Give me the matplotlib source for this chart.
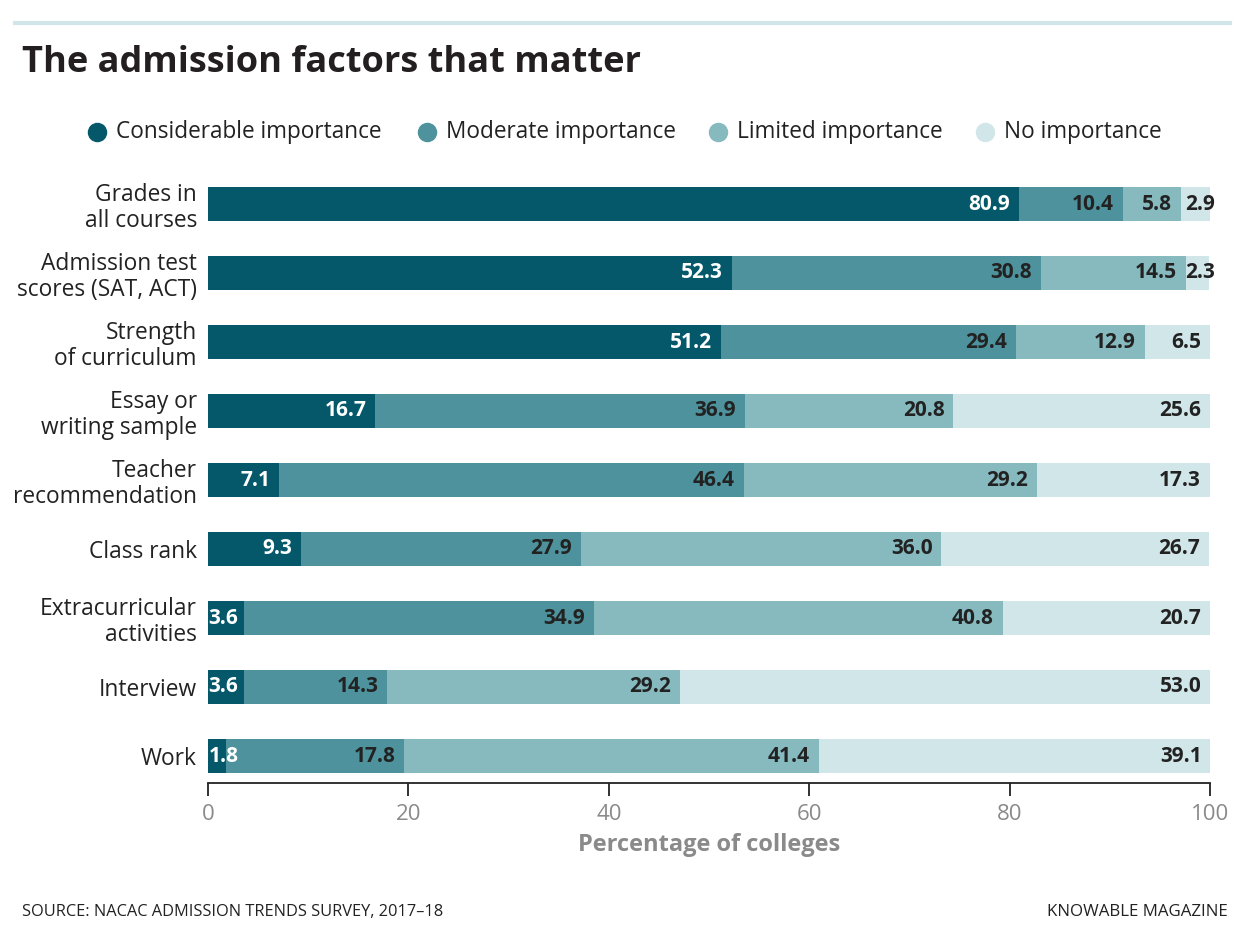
import matplotlib.pyplot as plt
from matplotlib.lines import Line2D

plt.rcParams['font.family'] = ['Open Sans', 'DejaVu Sans']

factors = ['Grades in\nall courses', 'Admission test\nscores (SAT, ACT)', 'Strength\nof curriculum',
           'Essay or\nwriting sample', 'Teacher\nrecommendation', 'Class rank',
           'Extracurricular\nactivities', 'Interview', 'Work']
considerable = [80.9, 52.3, 51.2, 16.7, 7.1, 9.3, 3.6, 3.6, 1.8]
moderate = [10.4, 30.8, 29.4, 36.9, 46.4, 27.9, 34.9, 14.3, 17.8]
limited = [5.8, 14.5, 12.9, 20.8, 29.2, 36.0, 40.8, 29.2, 41.4]
none_ = [2.9, 2.3, 6.5, 25.6, 17.3, 26.7, 20.7, 53.0, 39.1]

series = [considerable, moderate, limited, none_]
names = ['Considerable importance', 'Moderate importance', 'Limited importance', 'No importance']
colors = ['#04586a', '#4d929c', '#86babf', '#d1e6e8']
text_colors = ['white', '#222222', '#222222', '#222222']

fig = plt.figure(figsize=(12.5, 9.42), dpi=100)
ax = fig.add_axes([208/1250, 1 - 783/942, 1002/1250, (783 - 169.5)/942])

y = list(range(len(factors)))
left = [0.0] * len(factors)
for k, vals in enumerate(series):
    ax.barh(y, vals, left=left, height=0.49, color=colors[k], edgecolor='none')
    for i, v in enumerate(vals):
        end = left[i] + v
        if k == 0 and v < 4:
            ax.text(left[i] + 0.05, i, f'{v:.1f}', ha='left', va='center',
                    color=text_colors[k], fontsize=15, fontweight='bold')
        elif k == 3 and v < 4:
            ax.text(100.5, i, f'{v:.1f}', ha='right', va='center',
                    color=text_colors[k], fontsize=15, fontweight='bold')
        else:
            ax.text(end - 0.9, i, f'{v:.1f}', ha='right', va='center',
                    color=text_colors[k], fontsize=15, fontweight='bold')
    left = [a + b for a, b in zip(left, vals)]

ax.set_xlim(0, 100)
ax.set_ylim(8 + 27/69, -0.5)
ax.set_yticks(y)
ax.set_yticklabels(factors, fontsize=16.4, color='#222222', linespacing=1.1)
ax.tick_params(axis='y', length=0, pad=8)
ax.set_xticks([0, 20, 40, 60, 80, 100])
ax.tick_params(axis='x', length=9, width=1.3, color='#222222', labelsize=16,
               labelcolor='#8a8a8a', pad=6)
for s in ['top', 'right', 'left']:
    ax.spines[s].set_visible(False)
ax.spines['bottom'].set_linewidth(1.3)
ax.spines['bottom'].set_color('#222222')
ax.set_xlabel('Percentage of colleges', fontsize=17, fontweight='bold', color='#8a8a8a', labelpad=6)

# top rule
fig.add_artist(Line2D([15/1250, 1230/1250], [1 - 23/942, 1 - 23/942], transform=fig.transFigure,
                      color='#d1e6e8', linewidth=3))
fig.text(22/1250, 1 - 63/942, 'The admission factors that matter', fontsize=26, fontweight='bold',
         color='#231f20', va='center', ha='left')

# legend
legend_x = [97, 427, 718, 985]
for k in range(4):
    fx = legend_x[k] / 1250
    fy = 1 - 132/942
    fig.add_artist(Line2D([fx], [fy], transform=fig.transFigure, marker='o', markersize=13,
                          color=colors[k], linestyle='none'))
    fig.text(fx + 19/1250, fy, names[k], fontsize=16.3, color='#222222', va='center', ha='left')

fig.text(22/1250, 1 - 912/942, 'SOURCE: NACAC ADMISSION TRENDS SURVEY, 2017\u201318', fontsize=11.8,
         color='#222222', va='center', ha='left')
fig.text(1228/1250, 1 - 912/942, 'KNOWABLE MAGAZINE', fontsize=12.2,
         color='#222222', va='center', ha='right')

fig.savefig('out.png', dpi=100)
